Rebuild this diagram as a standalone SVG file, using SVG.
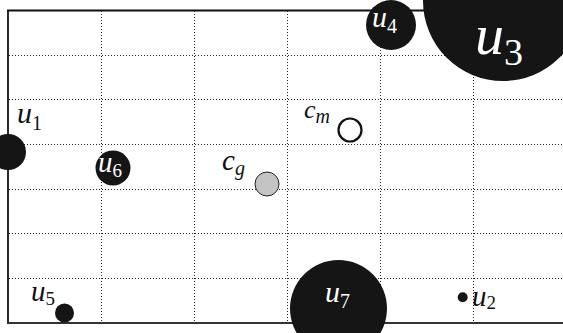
<svg xmlns="http://www.w3.org/2000/svg" width="563" height="333" viewBox="0 0 563 333">
<style>
.grid{stroke:#222;stroke-width:1;stroke-dasharray:1 2;fill:none}
.border{stroke:#111;stroke-width:1.8;fill:none}
.blk{fill:#151515}
.lbl{font-family:"Liberation Serif",serif;font-style:italic;fill:#111}
.wl{font-family:"Liberation Serif",serif;font-style:italic;fill:#fff}
.sub{font-style:normal}
</style>
<rect width="563" height="333" fill="#fff"/>
<g id="grid">
<line class="grid" x1="9" y1="55.5" x2="563" y2="55.5"/>
<line class="grid" x1="9" y1="99.5" x2="563" y2="99.5"/>
<line class="grid" x1="9" y1="144.5" x2="563" y2="144.5"/>
<line class="grid" x1="9" y1="189.5" x2="563" y2="189.5"/>
<line class="grid" x1="9" y1="233.5" x2="563" y2="233.5"/>
<line class="grid" x1="9" y1="278.5" x2="563" y2="278.5"/>
<line class="grid" x1="101.5" y1="11" x2="101.5" y2="323"/>
<line class="grid" x1="194.5" y1="11" x2="194.5" y2="323"/>
<line class="grid" x1="287.5" y1="11" x2="287.5" y2="323"/>
<line class="grid" x1="380.5" y1="11" x2="380.5" y2="323"/>
<line class="grid" x1="473.5" y1="11" x2="473.5" y2="323"/>
</g>
<g id="axes">
<line class="border" x1="7" y1="10.5" x2="563" y2="10.5"/>
<line class="border" x1="8" y1="10" x2="8" y2="324"/>
<line class="border" x1="7" y1="323" x2="563" y2="323" style="stroke:#333"/>
</g>
<g id="u3"><circle class="blk" cx="503" cy="1" r="80"/>
<text class="wl" x="475" y="54" font-size="58">u<tspan class="sub" font-size="38" dy="11">3</tspan></text></g>
<g id="u4"><circle class="blk" cx="391" cy="25" r="25"/>
<text class="wl" x="372" y="27" font-size="30">u<tspan class="sub" font-size="20" dy="6">4</tspan></text></g>
<g id="u1"><circle class="blk" cx="8" cy="152" r="18"/>
<text class="lbl" x="17" y="123" font-size="30">u<tspan class="sub" font-size="20" dy="7">1</tspan></text></g>
<g id="u6"><circle class="blk" cx="113" cy="168" r="17.5"/>
<text class="wl" x="98" y="172" font-size="29">u<tspan class="sub" font-size="19" dy="5">6</tspan></text></g>
<g id="cm"><circle cx="350" cy="130" r="11.5" fill="#fff" stroke="#111" stroke-width="2.2"/>
<text class="lbl" x="304" y="118" font-size="26">c<tspan font-size="20" dy="5">m</tspan></text></g>
<g id="cg"><circle cx="267" cy="184" r="12" fill="#c4c4c4" stroke="#222" stroke-width="1"/>
<text class="lbl" x="222" y="170" font-size="29">c<tspan font-size="20" dy="5">g</tspan></text></g>
<g id="u7"><circle class="blk" cx="338.5" cy="308.5" r="48.5"/>
<text class="wl" x="325" y="302" font-size="30">u<tspan class="sub" font-size="20" dy="6">7</tspan></text></g>
<g id="u2"><circle class="blk" cx="462.7" cy="297.3" r="5"/>
<text class="lbl" x="472" y="306" font-size="29">u<tspan class="sub" font-size="19" dy="3">2</tspan></text></g>
<g id="u5"><circle class="blk" cx="64.5" cy="313" r="9.5"/>
<text class="lbl" x="31" y="301" font-size="29">u<tspan class="sub" font-size="19" dy="4">5</tspan></text></g>
</svg>
